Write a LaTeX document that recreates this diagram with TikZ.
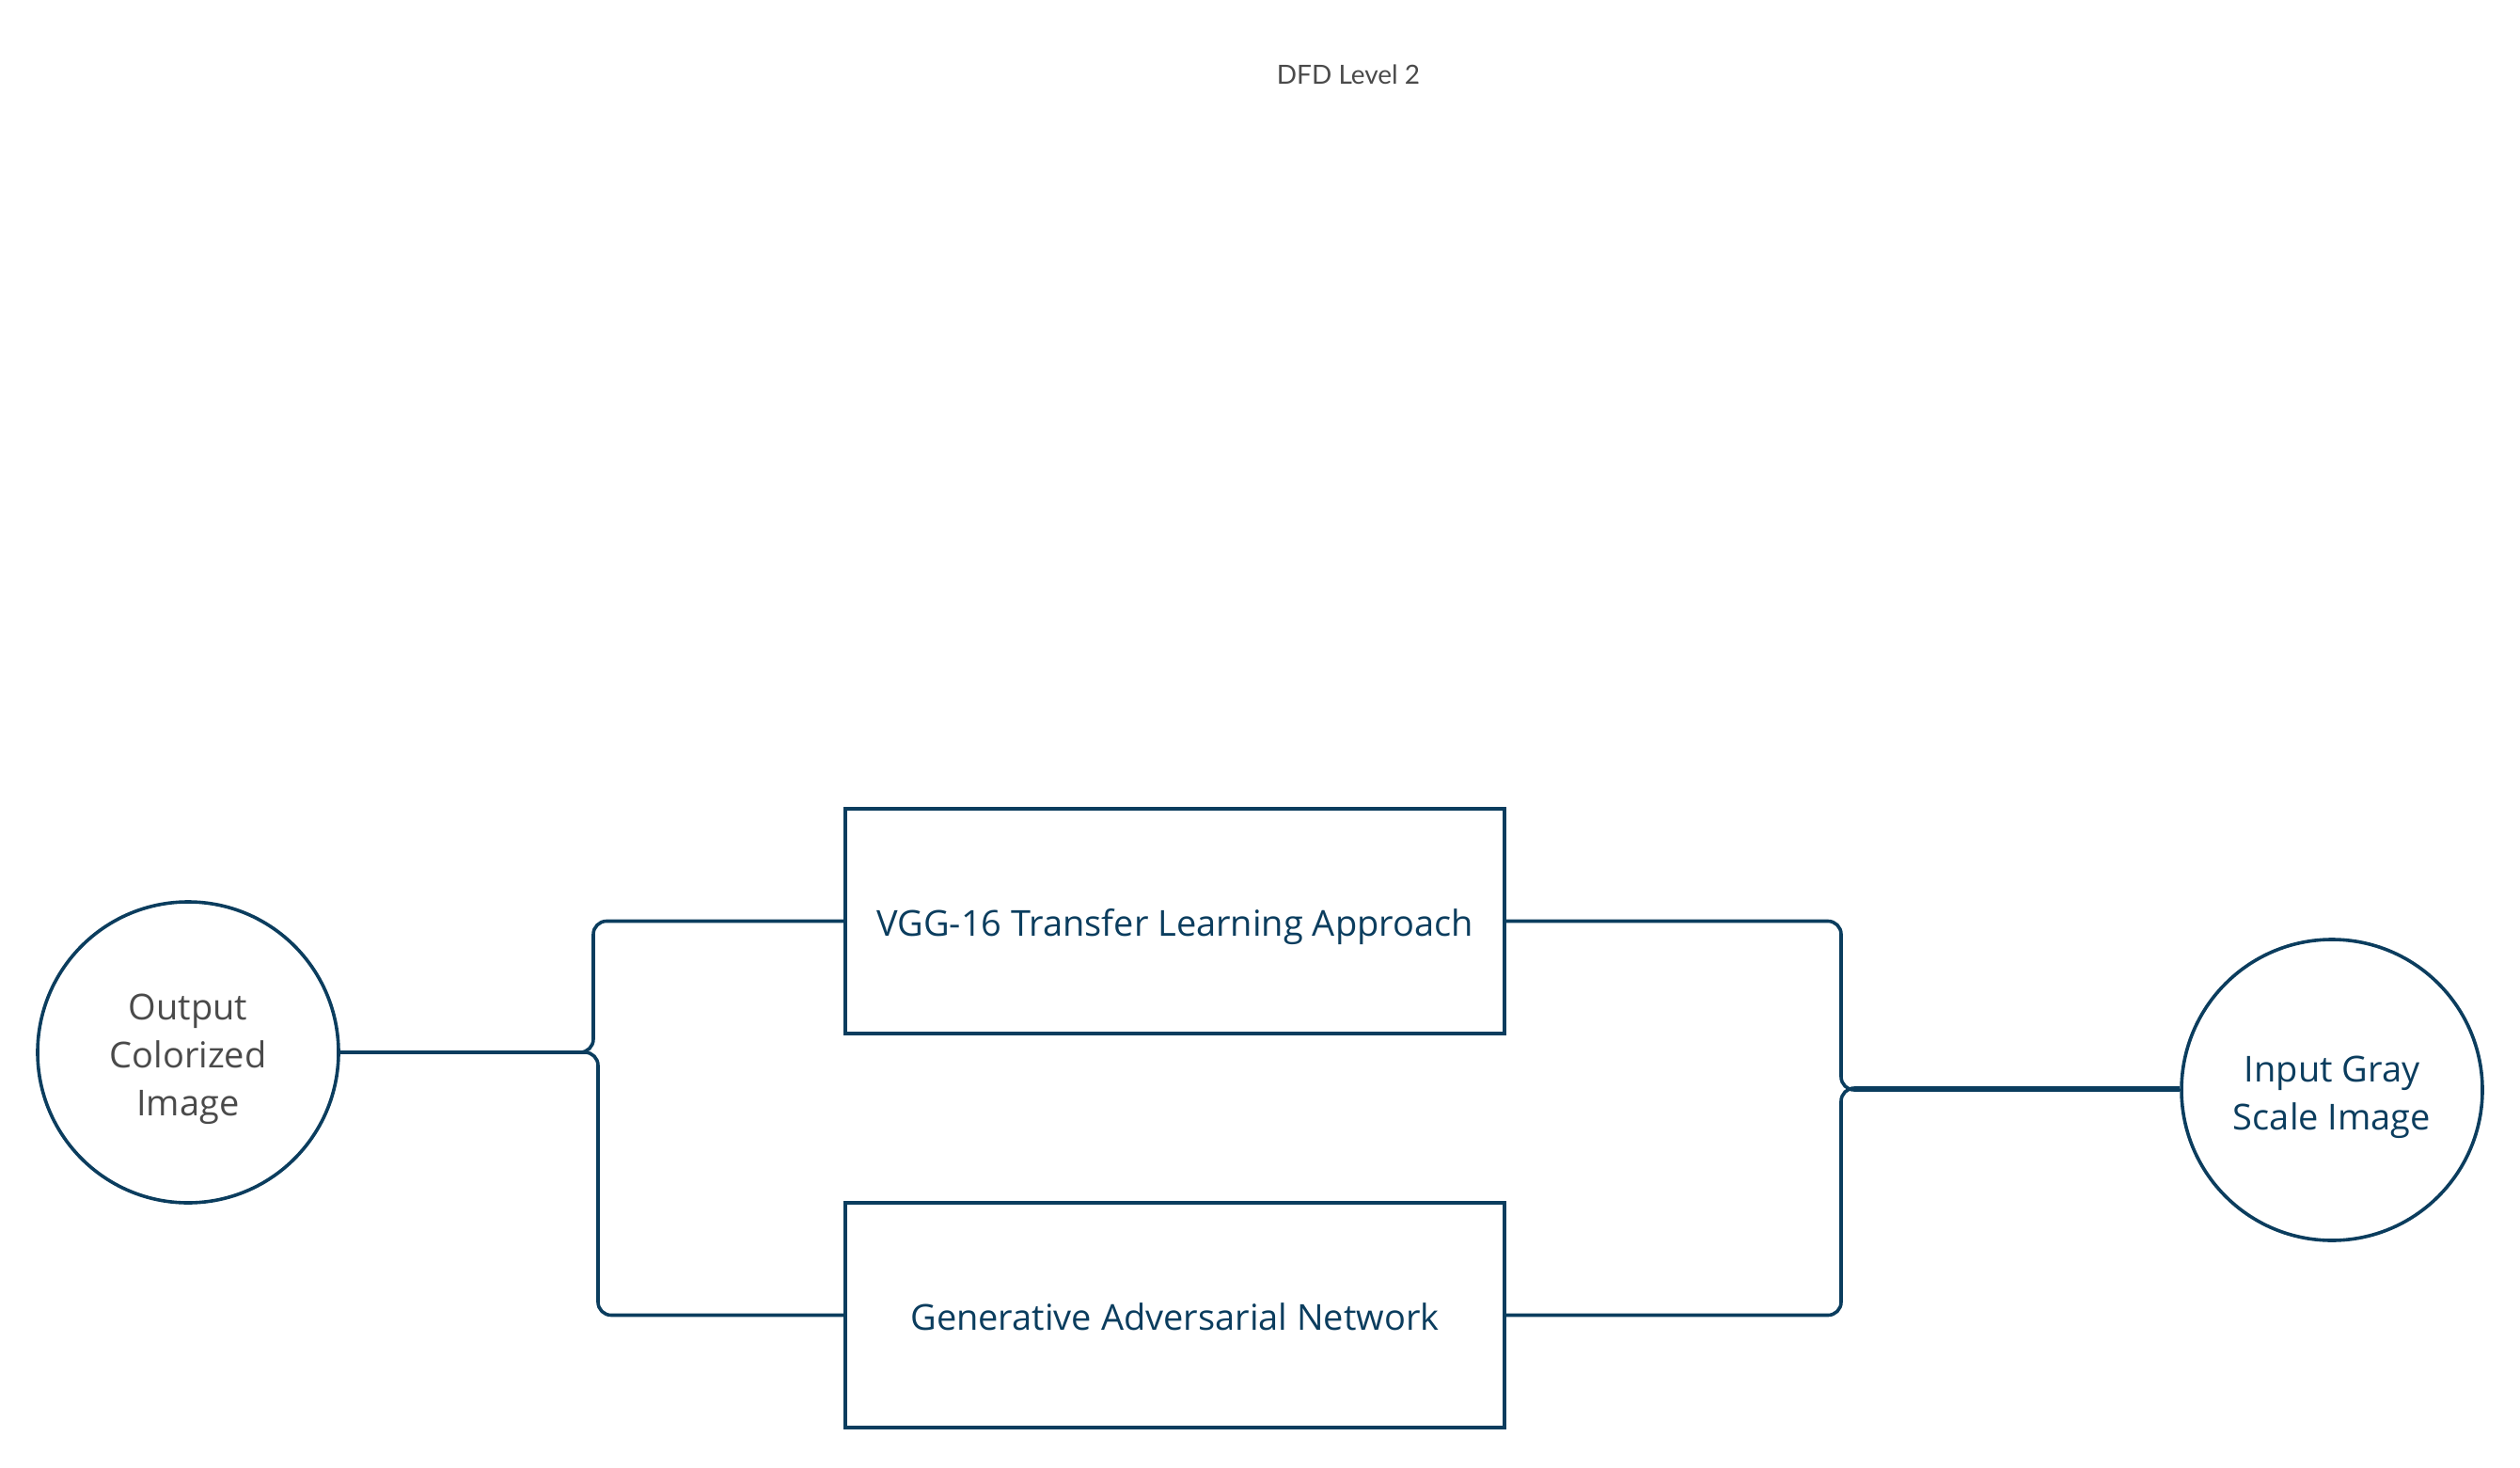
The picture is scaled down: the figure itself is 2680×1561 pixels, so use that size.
\documentclass[tikz,border=0pt]{standalone}
\usepackage{fontspec}
\setmainfont{Open Sans}
\newfontfamily\titlefont{Lato}
\definecolor{navy}{HTML}{0B3D5E}
\definecolor{txtgray}{HTML}{4A4A4A}
\begin{document}
\begin{tikzpicture}[x=0.5pt,y=-0.5pt,
  proc/.style={draw=navy,line width=1.8pt,minimum width=350.5pt,minimum height=119.5pt,inner sep=0pt,text height=15.6pt,text depth=0pt,text=navy,font=\fontsize{19pt}{25.5pt}\selectfont},
  ent/.style={draw=navy,line width=1.8pt,circle,minimum size=160pt,inner sep=0pt,align=center,font=\fontsize{19pt}{25.5pt}\selectfont},
  link/.style={draw=navy,line width=1.8pt,rounded corners=7pt}]
\useasboundingbox (0,0) rectangle (2680,1561);
\node[font=\titlefont\fontsize{14pt}{17pt}\selectfont,text=txtgray] (title) at (1434,79) {DFD Level 2};
\node[proc] (vgg) at (1249.5,979.5) {VGG-16 Transfer Learning Approach};
\node[proc] (gan) at (1249.5,1398.5) {Generative Adversarial Network};
\node[ent,text=txtgray] (out) at (200,1119) {\\[-25.5pt]\\[-4.5pt]Output\\Colorized\\Image};
\node[ent,text=navy] (in) at (2480,1159) {\\[-25.5pt]\\[-3.5pt]Input Gray\\Scale Image};
\coordinate (ja) at (631,0);
\coordinate (jb) at (636,0);
\coordinate (jr) at (1958,0);
\draw[link] (out.east) -- (out.east -| ja) -- (ja |- vgg.west) -- (vgg.west);
\draw[link] (out.east) -- (out.east -| jb) -- (jb |- gan.west) -- (gan.west);
\draw[link] (vgg.east) -- (vgg.east -| jr) -- (jr |- in.west) -- (in.west);
\draw[link] (gan.east) -- (gan.east -| jr) -- ([yshift=1pt]jr |- in.west) -- ([yshift=1pt]in.west);
\end{tikzpicture}
\end{document}
